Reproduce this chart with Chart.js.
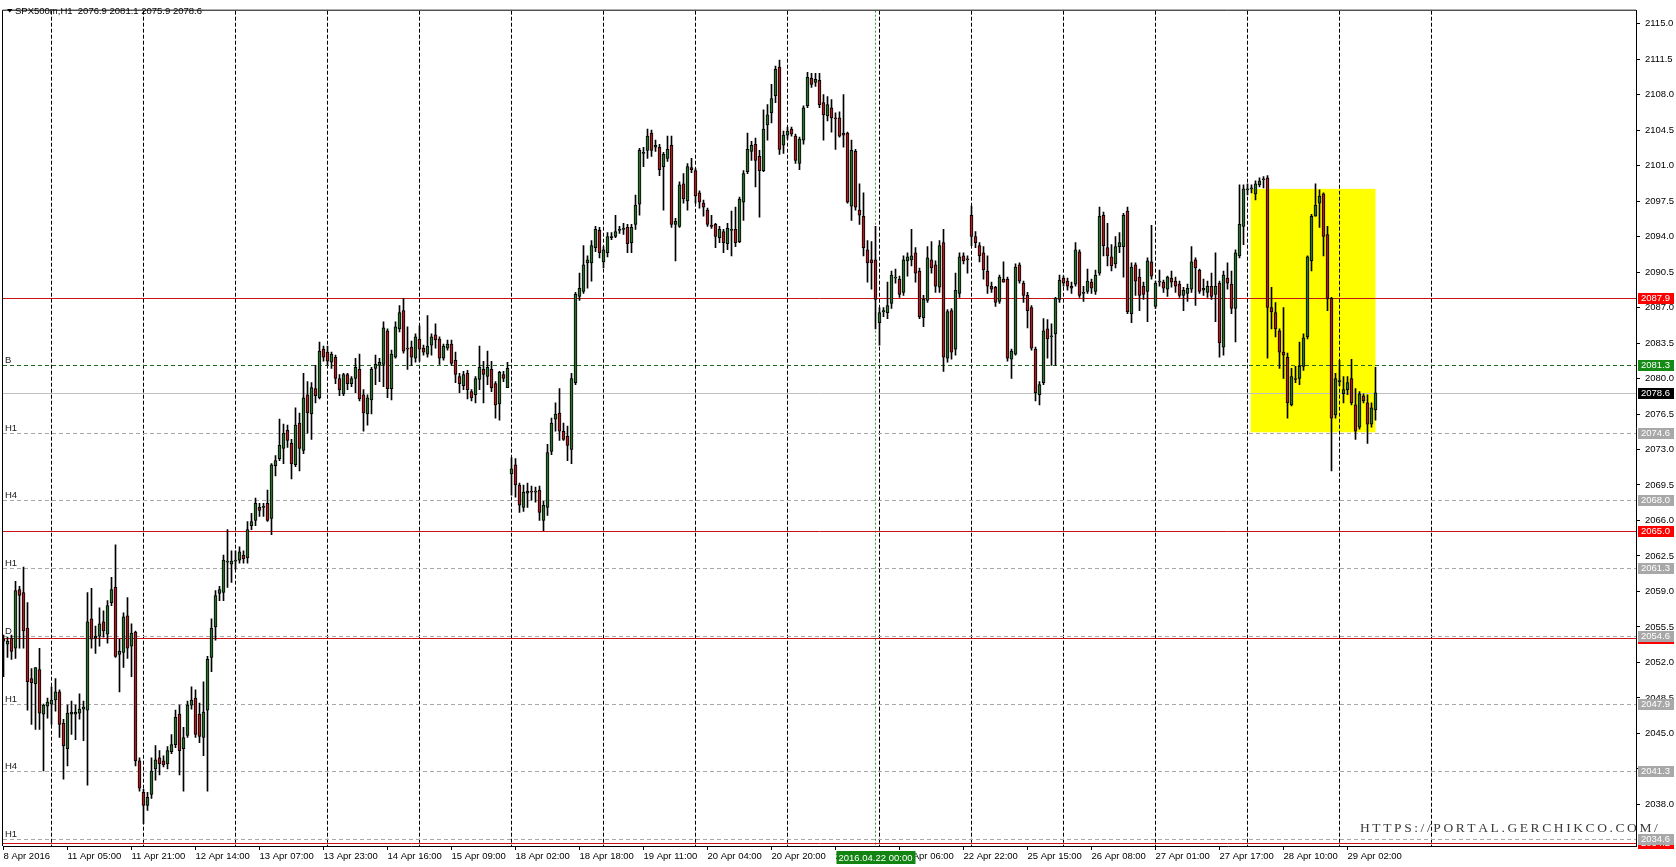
<!DOCTYPE html>
<html>
<head>
<meta charset="utf-8">
<title>SPX500m,H1</title>
<script src="https://cdn.jsdelivr.net/npm/chart.js@4.4.1/dist/chart.umd.min.js"></script>
<style>
  html, body { margin: 0; padding: 0; background: #fff; }
  #wrap { width: 1676px; height: 867px; position: relative; }
</style>
</head>
<body>
<div id="wrap"><canvas id="myChart"></canvas></div>
<script>
// hourly bars (bar index 0 = 8 Apr 2016)
const opens = [
  2054.3,2053.8,2054.4,2053.4,2059.2,2058.9,2055.4,2050.4,2049.9,2051.3,2046.9,2047.7,2047.9,2048.3,2049.1,2046.0,2043.5,2046.9,2046.9,2047.0,
  2047.4,2047.3,2056.3,2054.4,2054.6,2056.0,2054.8,2057.9,2059.4,2052.8,2053.0,2056.6,2053.6,2055.0,2042.3,2039.2,2037.9,2039.0,2041.5,2042.6,
  2042.3,2042.0,2043.2,2043.9,2046.9,2043.5,2044.8,2047.8,2048.5,2046.9,2044.6,2047.3,2052.5,2055.5,2058.8,2058.9,2061.9,2061.7,2062.0,2062.1,
  2062.6,2062.3,2065.5,2066.0,2067.3,2067.3,2067.7,2066.2,2071.4,2072.1,2073.1,2074.9,2073.6,2071.5,2075.6,2072.9,2078.4,2076.5,2079.0,2078.1,
  2082.9,2082.6,2081.6,2082.1,2080.0,2078.5,2080.4,2079.5,2080.0,2080.9,2078.4,2076.5,2077.9,2081.0,2081.3,2081.4,2084.7,2079.0,2082.1,2084.9,
  2086.7,2082.9,2083.1,2082.0,2083.9,2083.0,2082.4,2083.3,2084.3,2083.9,2082.0,2083.0,2083.4,2081.8,2080.2,2079.3,2080.5,2078.7,2078.4,2079.9,
  2080.9,2080.2,2080.9,2079.5,2077.5,2080.4,2079.1,2070.6,2071.5,2069.5,2067.3,2068.7,2068.9,2068.8,2069.0,2066.0,2067.3,2072.8,2076.0,2076.6,
  2074.8,2074.3,2073.0,2079.6,2088.1,2088.6,2091.4,2091.4,2092.9,2094.6,2091.5,2092.4,2093.9,2094.0,2094.6,2094.7,2094.9,2093.4,2095.2,2097.2,
  2102.2,2102.5,2104.2,2102.8,2102.8,2100.9,2101.7,2103.0,2095.2,2095.0,2099.2,2097.5,2100.8,2100.5,2098.3,2097.3,2096.6,2095.1,2095.2,2093.9,
  2094.5,2093.3,2094.6,2094.7,2093.5,2097.4,2100.4,2102.4,2103.1,2101.9,2100.5,2105.0,2106.2,2107.9,2110.7,2103.0,2104.0,2104.6,2103.9,2101.2,
  2103.5,2106.9,2109.6,2109.2,2109.4,2107.2,2105.9,2106.7,2105.7,2105.7,2104.2,2104.2,2097.0,2102.4,2096.6,2096.0,2092.7,2091.7,2091.7,2085.5,
  2086.6,2086.5,2087.4,2089.9,2089.8,2088.5,2091.6,2091.7,2092.4,2090.6,2086.0,2087.7,2091.7,2091.2,2089.0,2093.4,2082.0,2086.7,2082.9,2088.4,
  2092.1,2091.8,2096.1,2094.0,2093.1,2092.4,2090.6,2089.1,2089.0,2087.6,2089.8,2089.8,2081.9,2082.4,2091.2,2089.4,2088.2,2087.0,2082.9,2078.4,
  2079.6,2084.9,2084.1,2084.4,2087.8,2089.9,2089.6,2089.1,2089.3,2092.5,2088.4,2088.6,2089.5,2088.6,2090.4,2096.1,2092.9,2092.0,2091.3,2093.0,
  2093.0,2096.5,2086.4,2091.2,2090.0,2089.1,2088.6,2091.5,2087.1,2089.5,2089.5,2088.8,2089.9,2089.6,2089.3,2088.2,2088.4,2088.8,2091.7,2090.7,
  2088.9,2088.5,2089.1,2088.3,2089.4,2083.1,2089.9,2089.3,2086.9,2092.1,2095.0,2098.6,2098.7,2098.2,2099.1,2099.6,2099.8,2087.0,2086.5,2084.7,
  2082.6,2082.1,2077.4,2079.9,2080.0,2081.2,2084.1,2091.6,2096.0,2097.3,2098.2,2094.2,2087.9,2076.4,2079.7,2078.5,2078.9,2080.0,2077.4,2075.2,
  2078.3,2077.6,2075.5,2076.9
];
const highs = [
  2054.7,2054.5,2054.7,2060.0,2059.5,2061.4,2057.9,2051.4,2051.5,2053.4,2047.9,2048.5,2049.6,2050.4,2049.3,2046.4,2047.8,2048.2,2047.8,2048.9,
  2048.2,2058.9,2059.3,2055.6,2057.4,2057.1,2058.1,2060.4,2063.6,2054.3,2056.9,2058.4,2055.8,2055.1,2042.6,2039.5,2039.2,2042.6,2043.8,2043.3,
  2042.8,2043.7,2044.9,2047.3,2047.8,2045.6,2048.2,2049.6,2049.3,2048.0,2050.1,2052.6,2056.3,2059.1,2059.5,2062.6,2065.1,2063.0,2063.0,2063.4,
  2063.0,2065.9,2066.7,2068.2,2067.7,2067.7,2069.0,2071.6,2072.4,2076.0,2075.5,2075.4,2074.0,2077.1,2076.6,2080.5,2079.7,2079.6,2081.3,2083.6,
  2083.2,2083.2,2082.6,2082.3,2080.4,2080.5,2080.5,2080.2,2082.0,2082.4,2078.9,2078.4,2081.1,2082.3,2082.0,2085.6,2084.9,2082.8,2085.6,2087.2,
  2087.9,2085.1,2083.7,2084.4,2085.2,2083.3,2086.2,2084.4,2085.4,2084.1,2083.4,2083.8,2083.8,2082.6,2080.5,2080.7,2080.8,2078.9,2080.2,2083.2,
  2081.7,2082.7,2081.7,2079.7,2080.7,2080.7,2081.6,2072.2,2072.1,2069.7,2069.5,2069.7,2069.4,2069.3,2069.4,2067.9,2073.5,2076.1,2077.6,2079.0,
  2075.6,2075.3,2080.5,2088.5,2090.4,2093.1,2092.1,2093.6,2095.0,2094.9,2093.0,2094.4,2094.4,2096.1,2095.0,2095.3,2095.2,2095.2,2098.1,2102.7,
  2102.8,2104.6,2104.5,2103.5,2103.1,2102.3,2103.9,2103.9,2095.8,2099.4,2100.2,2101.2,2101.7,2100.7,2098.5,2097.6,2096.8,2096.1,2095.3,2095.0,
  2094.7,2095.3,2096.5,2096.9,2097.9,2100.5,2104.2,2103.4,2103.7,2102.5,2106.5,2107.0,2109.0,2110.8,2111.4,2104.4,2104.8,2104.8,2104.1,2103.8,
  2106.9,2110.2,2110.1,2110.1,2110.1,2108.0,2107.8,2107.5,2106.2,2106.3,2108.0,2104.3,2103.5,2102.6,2099.2,2098.3,2093.6,2093.5,2095.0,2087.0,
  2087.0,2089.5,2090.6,2090.8,2090.1,2092.1,2092.4,2094.7,2092.9,2090.9,2088.2,2093.0,2093.5,2091.6,2093.6,2094.7,2086.8,2086.9,2090.4,2092.4,
  2092.4,2092.1,2097.0,2094.5,2093.4,2093.0,2092.1,2089.5,2089.1,2090.2,2091.5,2090.0,2082.9,2091.3,2091.4,2089.6,2088.5,2087.2,2083.1,2079.7,
  2085.9,2085.8,2085.4,2088.0,2090.2,2090.1,2089.9,2089.5,2093.4,2092.7,2089.1,2090.8,2089.8,2090.7,2096.9,2096.4,2095.3,2093.2,2094.0,2094.4,
  2096.3,2096.9,2091.4,2091.4,2090.8,2089.5,2091.9,2095.1,2089.6,2090.7,2089.7,2090.1,2090.6,2090.0,2089.6,2089.0,2089.3,2093.0,2091.9,2090.8,
  2089.8,2089.6,2090.4,2092.4,2089.6,2090.6,2091.4,2090.6,2092.7,2099.1,2099.1,2099.2,2099.1,2099.5,2099.8,2099.9,2100.0,2089.0,2087.5,2084.9,
  2087.0,2082.5,2081.0,2081.2,2083.6,2084.4,2092.1,2096.2,2099.2,2098.6,2098.3,2095.0,2088.0,2080.5,2081.8,2080.2,2080.2,2081.9,2079.0,2078.7,
  2078.5,2078.4,2077.6,2081.1
];
const lows = [
  2050.6,2052.5,2052.3,2052.4,2053.4,2053.4,2047.3,2045.9,2045.4,2045.4,2041.3,2046.5,2045.9,2047.2,2044.6,2040.5,2041.8,2044.9,2044.4,2046.4,
  2044.3,2039.9,2053.4,2052.9,2053.6,2054.5,2053.9,2057.6,2052.5,2049.1,2051.5,2052.4,2050.6,2041.8,2039.3,2036.1,2037.4,2038.6,2040.4,2040.9,
  2041.7,2041.5,2043.0,2043.6,2040.9,2039.3,2044.6,2047.4,2044.6,2044.1,2042.8,2039.3,2051.1,2054.2,2058.1,2058.1,2059.4,2059.9,2061.2,2061.8,
  2061.8,2061.8,2065.1,2065.5,2066.4,2066.4,2065.9,2064.6,2070.4,2071.9,2071.6,2073.2,2070.1,2071.3,2070.9,2072.6,2074.6,2074.0,2077.6,2078.0,
  2081.7,2081.3,2081.0,2079.5,2078.3,2078.3,2078.9,2079.2,2078.6,2077.8,2074.8,2075.4,2076.5,2079.4,2079.7,2079.2,2078.1,2077.9,2082.0,2084.6,
  2082.5,2080.9,2081.3,2081.6,2081.7,2082.3,2082.1,2082.3,2083.0,2081.4,2081.8,2082.8,2081.3,2079.6,2078.6,2078.9,2078.0,2077.8,2077.6,2078.9,
  2077.6,2079.4,2078.7,2076.1,2075.9,2079.7,2079.1,2068.5,2068.3,2066.8,2066.9,2067.3,2068.0,2067.8,2066.0,2065.0,2066.5,2072.5,2074.8,2073.9,
  2073.9,2071.9,2071.6,2079.4,2087.7,2088.4,2088.9,2089.6,2092.5,2091.9,2090.9,2092.0,2093.7,2093.9,2094.3,2094.2,2092.4,2092.4,2094.7,2096.1,
  2100.9,2101.7,2101.9,2102.4,2100.0,2096.6,2101.4,2094.9,2091.6,2094.9,2097.3,2096.6,2100.3,2097.3,2096.8,2096.0,2095.0,2094.8,2092.9,2093.4,
  2092.4,2092.7,2092.1,2093.0,2093.4,2095.6,2100.2,2101.5,2098.9,2095.9,2100.4,2103.5,2105.2,2107.2,2102.1,2102.2,2103.6,2103.9,2101.2,2100.6,
  2103.1,2106.7,2108.7,2108.8,2106.7,2103.5,2105.4,2104.3,2102.6,2103.8,2102.8,2097.3,2095.6,2096.6,2095.2,2092.1,2089.5,2088.8,2084.9,2083.3,
  2086.1,2085.9,2086.9,2089.4,2088.0,2088.2,2090.1,2091.1,2089.5,2085.9,2085.1,2087.5,2090.4,2088.5,2088.5,2080.7,2081.6,2081.9,2082.3,2088.0,
  2091.3,2090.4,2093.1,2092.9,2091.5,2089.8,2088.4,2088.5,2087.1,2087.4,2089.5,2081.7,2080.0,2082.3,2089.4,2087.5,2085.0,2082.8,2077.8,2077.4,
  2079.4,2082.0,2081.3,2081.3,2087.5,2089.1,2088.7,2088.4,2089.1,2088.0,2087.6,2088.4,2088.4,2088.3,2090.2,2092.1,2091.1,2090.6,2090.9,2092.4,
  2090.0,2086.4,2085.5,2088.2,2086.7,2087.8,2085.6,2089.8,2086.9,2089.1,2088.5,2088.1,2089.0,2088.5,2088.0,2086.7,2087.6,2088.5,2087.2,2088.4,
  2088.2,2088.0,2087.8,2085.6,2082.1,2082.3,2088.8,2086.4,2083.6,2091.9,2093.2,2098.1,2098.3,2097.6,2098.9,2098.8,2082.0,2084.9,2084.1,2081.0,
  2080.0,2076.1,2077.3,2079.6,2079.4,2080.8,2083.9,2090.6,2096.0,2094.9,2092.1,2086.7,2070.9,2076.1,2079.3,2077.6,2078.4,2077.4,2074.0,2075.0,
  2077.6,2073.6,2075.2,2075.9
];
const closes = [
  2054.1,2054.1,2053.1,2059.1,2058.6,2055.1,2050.1,2050.0,2051.5,2047.0,2047.8,2048.1,2048.3,2049.1,2045.9,2043.8,2047.0,2047.1,2047.1,2047.4,
  2047.6,2056.0,2054.3,2054.6,2055.8,2055.1,2057.6,2059.2,2052.6,2053.1,2056.5,2053.4,2054.9,2042.3,2039.6,2037.9,2038.7,2041.3,2042.4,2042.0,
  2041.9,2043.3,2043.9,2046.6,2043.3,2044.6,2047.8,2048.3,2044.9,2044.7,2047.1,2052.3,2055.4,2058.6,2059.2,2062.1,2062.0,2062.0,2062.1,2062.9,
  2062.2,2065.1,2065.9,2067.7,2067.0,2067.3,2066.0,2071.5,2071.9,2073.4,2074.6,2073.9,2071.6,2075.4,2073.1,2078.1,2076.6,2079.1,2078.3,2082.7,
  2082.1,2081.7,2082.4,2080.0,2078.9,2080.4,2079.5,2080.0,2081.1,2078.0,2076.6,2078.1,2080.9,2081.4,2081.6,2085.0,2079.0,2082.4,2085.1,2086.5,
  2082.7,2083.0,2082.1,2084.1,2082.9,2082.6,2083.2,2084.1,2083.8,2082.0,2083.2,2083.4,2081.5,2080.4,2079.5,2080.4,2078.9,2078.1,2080.0,2081.1,
  2080.4,2081.1,2079.1,2077.4,2080.6,2080.0,2081.0,2071.1,2069.5,2067.5,2068.8,2068.9,2068.8,2068.9,2066.8,2067.5,2072.7,2075.6,2076.5,2074.8,
  2074.0,2073.4,2080.0,2088.3,2088.9,2091.2,2091.7,2093.1,2094.7,2092.4,2092.7,2094.0,2094.0,2094.5,2094.7,2094.7,2093.3,2094.9,2097.1,2102.5,
  2102.3,2103.9,2102.5,2103.0,2100.6,2102.1,2102.6,2095.2,2095.5,2099.1,2097.7,2100.9,2100.6,2098.0,2097.4,2096.9,2095.2,2095.0,2094.0,2094.7,
  2093.4,2094.8,2094.6,2093.4,2097.7,2100.2,2102.6,2103.0,2101.5,2100.5,2104.6,2106.0,2107.6,2110.5,2102.6,2104.0,2104.4,2104.1,2101.5,2103.6,
  2106.7,2109.7,2109.0,2109.5,2107.0,2106.0,2107.0,2105.7,2105.6,2103.9,2104.0,2097.4,2102.5,2096.9,2096.1,2092.9,2091.4,2091.4,2087.8,2086.5,
  2086.7,2087.2,2090.2,2089.9,2088.3,2091.7,2092.0,2092.1,2090.4,2086.1,2087.8,2091.9,2090.9,2089.1,2093.1,2082.1,2086.6,2082.6,2088.7,2092.0,
  2091.6,2091.7,2094.0,2093.4,2092.1,2090.7,2089.1,2088.8,2087.5,2090.0,2089.5,2082.0,2082.7,2091.0,2089.6,2088.2,2086.7,2083.0,2078.6,2079.4,
  2084.7,2083.9,2084.1,2087.9,2089.7,2089.4,2089.1,2088.9,2092.7,2088.2,2088.4,2089.6,2088.9,2090.2,2096.0,2093.1,2092.1,2091.1,2093.0,2093.4,
  2096.1,2086.6,2091.0,2089.6,2088.2,2088.3,2091.6,2090.1,2089.4,2089.5,2088.9,2090.0,2089.5,2089.1,2088.2,2088.7,2088.9,2091.5,2090.9,2088.6,
  2088.7,2089.1,2088.1,2089.1,2083.5,2090.2,2089.4,2086.9,2092.4,2095.2,2098.7,2098.7,2098.7,2099.2,2099.5,2099.6,2087.0,2086.6,2084.9,2082.6,
  2082.3,2077.6,2080.2,2079.9,2081.2,2084.0,2092.0,2096.0,2097.1,2098.0,2094.0,2087.9,2076.1,2080.0,2079.8,2078.9,2079.6,2077.6,2074.8,2078.5,
  2077.8,2075.5,2077.1,2078.6
];

const priceTicks = [2115.0, 2111.5, 2108.0, 2104.5, 2101.0, 2097.5, 2094.0, 2090.5, 2087.0, 2083.5, 2080.0, 2076.5,
  2073.0, 2069.5, 2066.0, 2062.5, 2059.0, 2055.5, 2052.0, 2048.5, 2045.0, 2041.5, 2038.0];
const timeLabels = ['8 Apr 2016', '11 Apr 05:00', '11 Apr 21:00', '12 Apr 14:00', '13 Apr 07:00', '13 Apr 23:00',
  '14 Apr 16:00', '15 Apr 09:00', '18 Apr 02:00', '18 Apr 18:00', '19 Apr 11:00', '20 Apr 04:00', '20 Apr 20:00',
  '21 Apr 13:00', '22 Apr 06:00', '22 Apr 22:00', '25 Apr 15:00', '26 Apr 08:00', '27 Apr 01:00', '27 Apr 17:00',
  '28 Apr 10:00', '29 Apr 02:00'];
const timeLabelBars = [0, 16, 32, 48, 64, 80, 96, 112, 128, 144, 160, 176, 192, 208, 224, 240, 256, 272, 288, 304, 320, 336];

// drawn levels
const redLevels = [2087.9, 2065.0, 2054.4, 2034.2];
const grayLevels = [2074.6, 2068.0, 2061.3, 2054.6, 2047.9, 2041.3, 2034.6];
const grayTags = ['H1', 'H4', 'H1', 'D', 'H1', 'H4', 'H1'];
const greenLevel = 2081.3;
const greenTag = 'B';
const bidPrice = 2078.6;
const boxTop = 2098.7, boxBottom = 2074.7, boxFrom = 311.8, boxTo = 343;
const crossBar = 218;
const crossLabel = '2016.04.22 00:00';
const titleText = 'SPX500m,H1  2076.9 2081.1 2075.9 2078.6';
const siteText = 'HTTPS://PORTAL.GERCHIKCO.COM/';

const bullColor = '#2c6e2c';
const bearColor = '#a81e1e';
const lineRed = '#c81414';
const font = '"Liberation Sans", Arial, sans-serif';

const bodyData = opens.map((o, i) => ({ x: i, y: [o, closes[i]] }));
const wickData = highs.map((h, i) => ({ x: i, y: [lows[i], h] }));
const bodyColors = opens.map((o, i) => closes[i] >= o ? bullColor : bearColor);

function hLine(ctx, a, py, color, dash) {
    const yy = Math.round(py) + 0.5;
    ctx.strokeStyle = color;
    ctx.setLineDash(dash);
    ctx.beginPath();
    ctx.moveTo(a.left, yy);
    ctx.lineTo(a.right, yy);
    ctx.stroke();
}

function vLine(ctx, a, px, color, dash) {
    const xx = Math.floor(px) + 0.5;
    ctx.strokeStyle = color;
    ctx.setLineDash(dash);
    ctx.beginPath();
    ctx.moveTo(xx, a.top);
    ctx.lineTo(xx, a.bottom);
    ctx.stroke();
}

function priceBox(ctx, py, bg, text) {
    const yy = Math.round(py);
    ctx.fillStyle = bg;
    ctx.fillRect(1638, yy - 5, 36, 11);
    ctx.fillStyle = '#fff';
    ctx.textAlign = 'left';
    ctx.textBaseline = 'middle';
    ctx.fillText(text, 1641, yy + 0.5);
}

const overlay = {
    id: 'overlay',
    beforeDatasetsDraw(chart) {
        const { ctx, chartArea: a, scales: { x, y } } = chart;
        ctx.save();
        ctx.beginPath();
        ctx.rect(a.left, a.top, a.right - a.left, a.bottom - a.top);
        ctx.clip();
        ctx.lineWidth = 1;

        // yellow rectangle
        const bx1 = x.getPixelForValue(boxFrom), bx2 = x.getPixelForValue(boxTo);
        const by1 = y.getPixelForValue(boxTop), by2 = y.getPixelForValue(boxBottom);
        ctx.fillStyle = '#ffff00';
        ctx.fillRect(bx1, by1, bx2 - bx1, by2 - by1);

        // day separators (grid), they stop a little after the last bar
        for (let b = 12; b < 360; b += 23) {
            vLine(ctx, a, x.getPixelForValue(b), '#000', [4, 2]);
        }
        vLine(ctx, a, x.getPixelForValue(crossBar), '#3c963c', [2, 2]);

        // levels
        grayLevels.forEach(v => hLine(ctx, a, y.getPixelForValue(v), '#a8a8a8', [4, 3]));
        redLevels.forEach(v => hLine(ctx, a, y.getPixelForValue(v), lineRed, []));
        hLine(ctx, a, y.getPixelForValue(greenLevel), '#1f6a1f', [4, 3]);
        hLine(ctx, a, y.getPixelForValue(bidPrice), '#c0c0c0', []);

        ctx.setLineDash([]);
        ctx.font = '9.5px ' + font;
        ctx.fillStyle = '#222';
        ctx.textAlign = 'left';
        ctx.textBaseline = 'alphabetic';
        grayLevels.forEach((v, k) => ctx.fillText(grayTags[k], 5, Math.round(y.getPixelForValue(v)) - 2));
        ctx.fillText(greenTag, 5, Math.round(y.getPixelForValue(greenLevel)) - 2);
        ctx.restore();
    },
    afterDraw(chart) {
        const { ctx, chartArea: a, scales: { x, y } } = chart;
        ctx.save();
        ctx.setLineDash([]);
        ctx.lineWidth = 1;
        ctx.strokeStyle = '#000';
        ctx.beginPath();
        ctx.moveTo(a.left - 0.5, a.bottom);
        ctx.lineTo(a.left - 0.5, a.top - 0.5);
        ctx.lineTo(a.right, a.top - 0.5);
        ctx.stroke();

        // price labels on the axis
        ctx.font = '9.5px ' + font;
        redLevels.forEach(v => priceBox(ctx, y.getPixelForValue(v), '#ff0000', v.toFixed(1)));
        grayLevels.forEach(v => priceBox(ctx, y.getPixelForValue(v), '#a8a8a8', v.toFixed(1)));
        priceBox(ctx, y.getPixelForValue(greenLevel), '#158a15', greenLevel.toFixed(1));
        priceBox(ctx, y.getPixelForValue(bidPrice), '#000', bidPrice.toFixed(1));

        // crosshair time label
        const cx = Math.floor(x.getPixelForValue(crossBar)) + 0.5;
        ctx.fillStyle = '#128412';
        ctx.fillRect(cx - 39, 851, 79, 13);
        ctx.fillStyle = '#fff';
        ctx.textAlign = 'center';
        ctx.fillText(crossLabel, cx, 858);

        // title
        ctx.fillStyle = '#000';
        ctx.beginPath();
        ctx.moveTo(7, 9);
        ctx.lineTo(12.5, 9);
        ctx.lineTo(9.75, 12.5);
        ctx.closePath();
        ctx.fill();
        ctx.textAlign = 'left';
        ctx.fillText(titleText, 15, 11);

        // site watermark
        ctx.font = '13.5px "Liberation Serif", serif';
        ctx.fillStyle = '#3a3a3a';
        ctx.textBaseline = 'alphabetic';
        let tx = 1360;
        for (const ch of siteText) {
            ctx.fillText(ch, tx, 832);
            tx += ctx.measureText(ch).width + 2.6;
        }
        ctx.restore();
    }
};

const ctx = document.querySelector('#myChart').getContext('2d');
const myChart = new Chart(ctx, {
    type: 'bar',
    data: {
        datasets: [{
            label: 'body',
            data: bodyData,
            backgroundColor: bodyColors,
            borderColor: '#000',
            borderWidth: 1,
            borderSkipped: false,
            barThickness: 3,
            minBarLength: 1,
            grouped: false
        }, {
            label: 'wick',
            data: wickData,
            backgroundColor: '#000',
            borderWidth: 0,
            barThickness: 1,
            grouped: false
        }]
    },
    options: {
        responsive: true,
        maintainAspectRatio: false,
        animation: false,
        events: [],
        layout: { padding: { left: 3, top: 2, right: 0, bottom: 0 } },
        plugins: {
            legend: { display: false },
            tooltip: { enabled: false },
            title: { display: false }
        },
        scales: {
            x: {
                type: 'linear',
                offset: false,
                min: -0.125,
                max: 408.125,
                afterBuildTicks: axis => { axis.ticks = timeLabelBars.map(v => ({ value: v })); },
                afterFit: axis => { axis.height = 21; },
                grid: { drawOnChartArea: false, offset: false, tickLength: 4, color: '#000' },
                border: { display: true, color: '#000' },
                ticks: {
                    autoSkip: false,
                    maxRotation: 0,
                    align: 'start',
                    padding: 1,
                    color: '#000',
                    font: { family: font, size: 9.5 },
                    callback: value => timeLabels[timeLabelBars.indexOf(value)]
                }
            },
            y: {
                position: 'right',
                min: 2033.903,
                max: 2116.269,
                afterBuildTicks: axis => { axis.ticks = priceTicks.map(v => ({ value: v })); },
                afterFit: axis => { axis.width = 40; },
                grid: { drawOnChartArea: false, tickLength: 4, color: '#000' },
                border: { display: true, color: '#000' },
                ticks: {
                    padding: 5,
                    color: '#000',
                    font: { family: font, size: 9.5 },
                    callback: value => value.toFixed(1)
                }
            }
        }
    },
    plugins: [overlay]
});
</script>
</body>
</html>
